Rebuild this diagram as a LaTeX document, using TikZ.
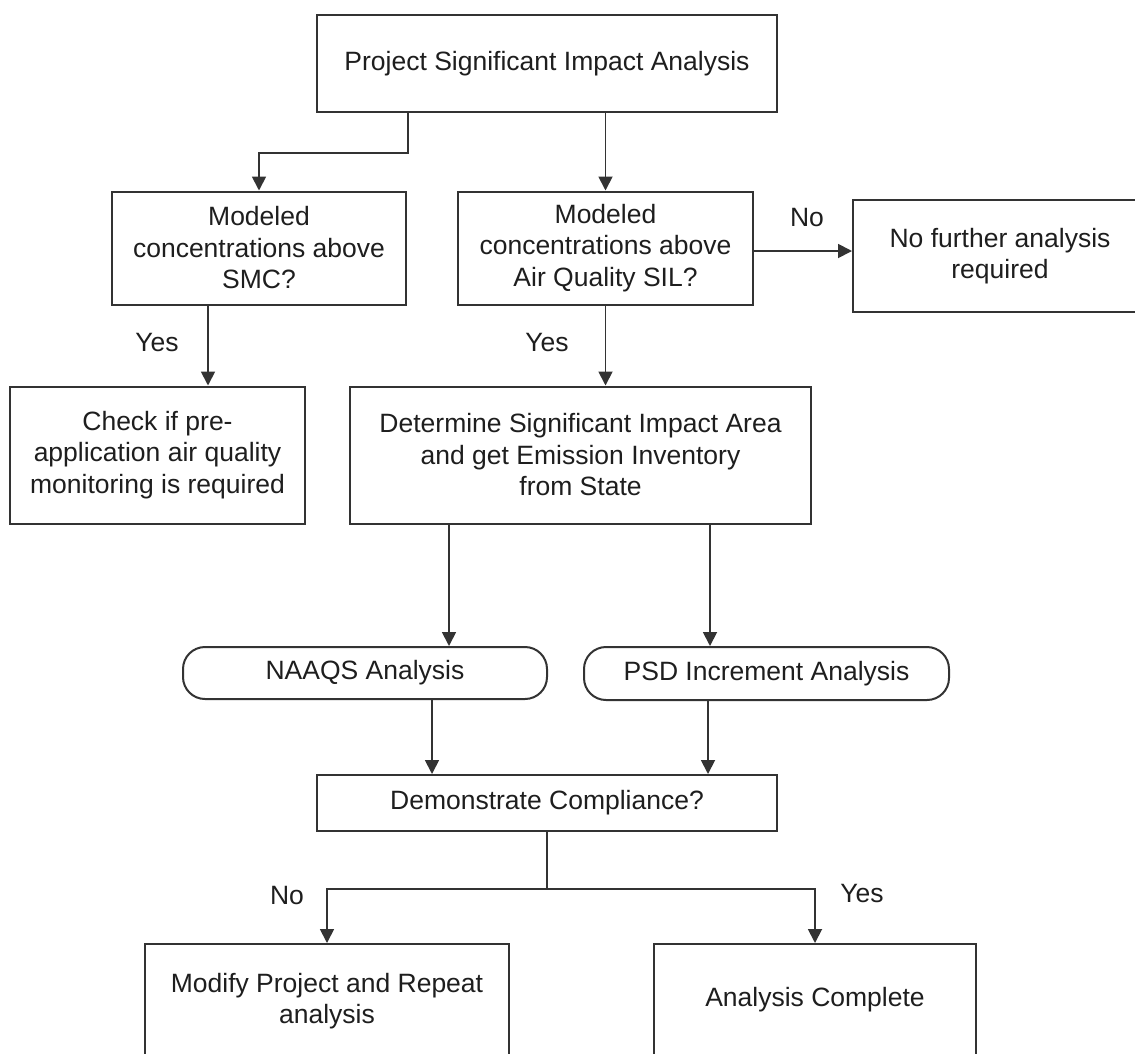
\documentclass[tikz,border=0pt]{standalone}
\usepackage{fontspec}
\setmainfont{Liberation Sans}
\usetikzlibrary{arrows.meta}
\definecolor{linegray}{HTML}{333333}
\definecolor{textgray}{HTML}{1E1E1E}
\tikzset{
	procbox/.style={draw=linegray, line width=2pt, text=textgray, align=center, inner sep=0pt},
	termbox/.style={procbox, rounded corners=22pt},
	flowarrow/.style={draw=linegray, line width=1.8pt, -{Triangle[length=14pt, width=14pt]}},
	lbl/.style={text=textgray, inner sep=0pt}
}
\begin{document}
\begin{tikzpicture}[x=1pt, y=-1pt, font=\fontsize{26.5pt}{31.5pt}\selectfont]
		\path[use as bounding box, fill=white] (0,0) rectangle (1135,1053);
		\clip (0,0) rectangle (1135,1053);

		\node[procbox, minimum width=460pt, minimum height=97pt] (project) at (547,63.5) {Project Significant Impact Analysis};
		\node[procbox, minimum width=294pt, minimum height=113pt] (smc) at (259,248) {Modeled\\concentrations above\\SMC?};
		\node[procbox, minimum width=295pt, minimum height=113pt] (sil) at (605.5,248) {Modeled\\concentrations above\\Air Quality SIL?};
		\node[procbox, minimum width=294pt, minimum height=112pt] (nofurther) at (1000,256) {No further analysis\\required};
		\node[procbox, minimum width=295pt, minimum height=137pt] (check) at (157.5,455) {Check if pre-\\application air quality\\monitoring is required};
		\node[procbox, minimum width=461pt, minimum height=137pt] (sia) at (580.5,455) {Determine Significant Impact Area\\and get Emission Inventory\\from State};
		\node[termbox, minimum width=364pt, minimum height=52pt] (naaqs) at (365,673) {NAAQS Analysis};
		\node[termbox, minimum width=365pt, minimum height=53pt] (psd) at (766.5,673.5) {PSD Increment Analysis};
		\node[procbox, minimum width=460pt, minimum height=56pt] (comply) at (547,803) {Demonstrate Compliance?};
		\node[procbox, minimum width=364pt, minimum height=114pt] (modify) at (327,1001) {Modify Project and Repeat\\analysis};
		\node[procbox, minimum width=322pt, minimum height=112pt] (complete) at (815,1000) {Analysis Complete};

		\draw[flowarrow] ([xshift=-139pt]project.south) -- ++(0,40) -| (smc.north);
		\draw[flowarrow] (project.south -| sil.north) -- (sil.north);
		\draw[flowarrow] ([yshift=-3pt]sil.east) -- ([yshift=-3pt]sil.east -| nofurther.west);
		\draw[flowarrow] ([xshift=-51pt]smc.south) -- ([xshift=-51pt]smc.south |- check.north);
		\draw[flowarrow] (sil.south) -- (sil.south |- sia.north);
		\draw[flowarrow] ([xshift=-131.5pt]sia.south) -- ([xshift=-131.5pt]sia.south |- naaqs.north);
		\draw[flowarrow] ([xshift=129.5pt]sia.south) -- ([xshift=129.5pt]sia.south |- psd.north);
		\draw[flowarrow] ([xshift=67pt]naaqs.south) -- ([xshift=67pt]naaqs.south |- comply.north);
		\draw[flowarrow] ([xshift=-58.5pt]psd.south) -- ([xshift=-58.5pt]psd.south |- comply.north);
		\draw[flowarrow] (comply.south) -- ++(0,57) -| (modify.north);
		\draw[flowarrow] (comply.south) ++(0,57) -| (complete.north);

		\node[lbl] (yessmc) at (157,343) {Yes};
		\node[lbl] (yessil) at (547,343) {Yes};
		\node[lbl] (nosil) at (807,218) {No};
		\node[lbl] (nocomply) at (287,895) {No};
		\node[lbl] (yescomply) at (862,893) {Yes};
	\end{tikzpicture}
\end{document}
